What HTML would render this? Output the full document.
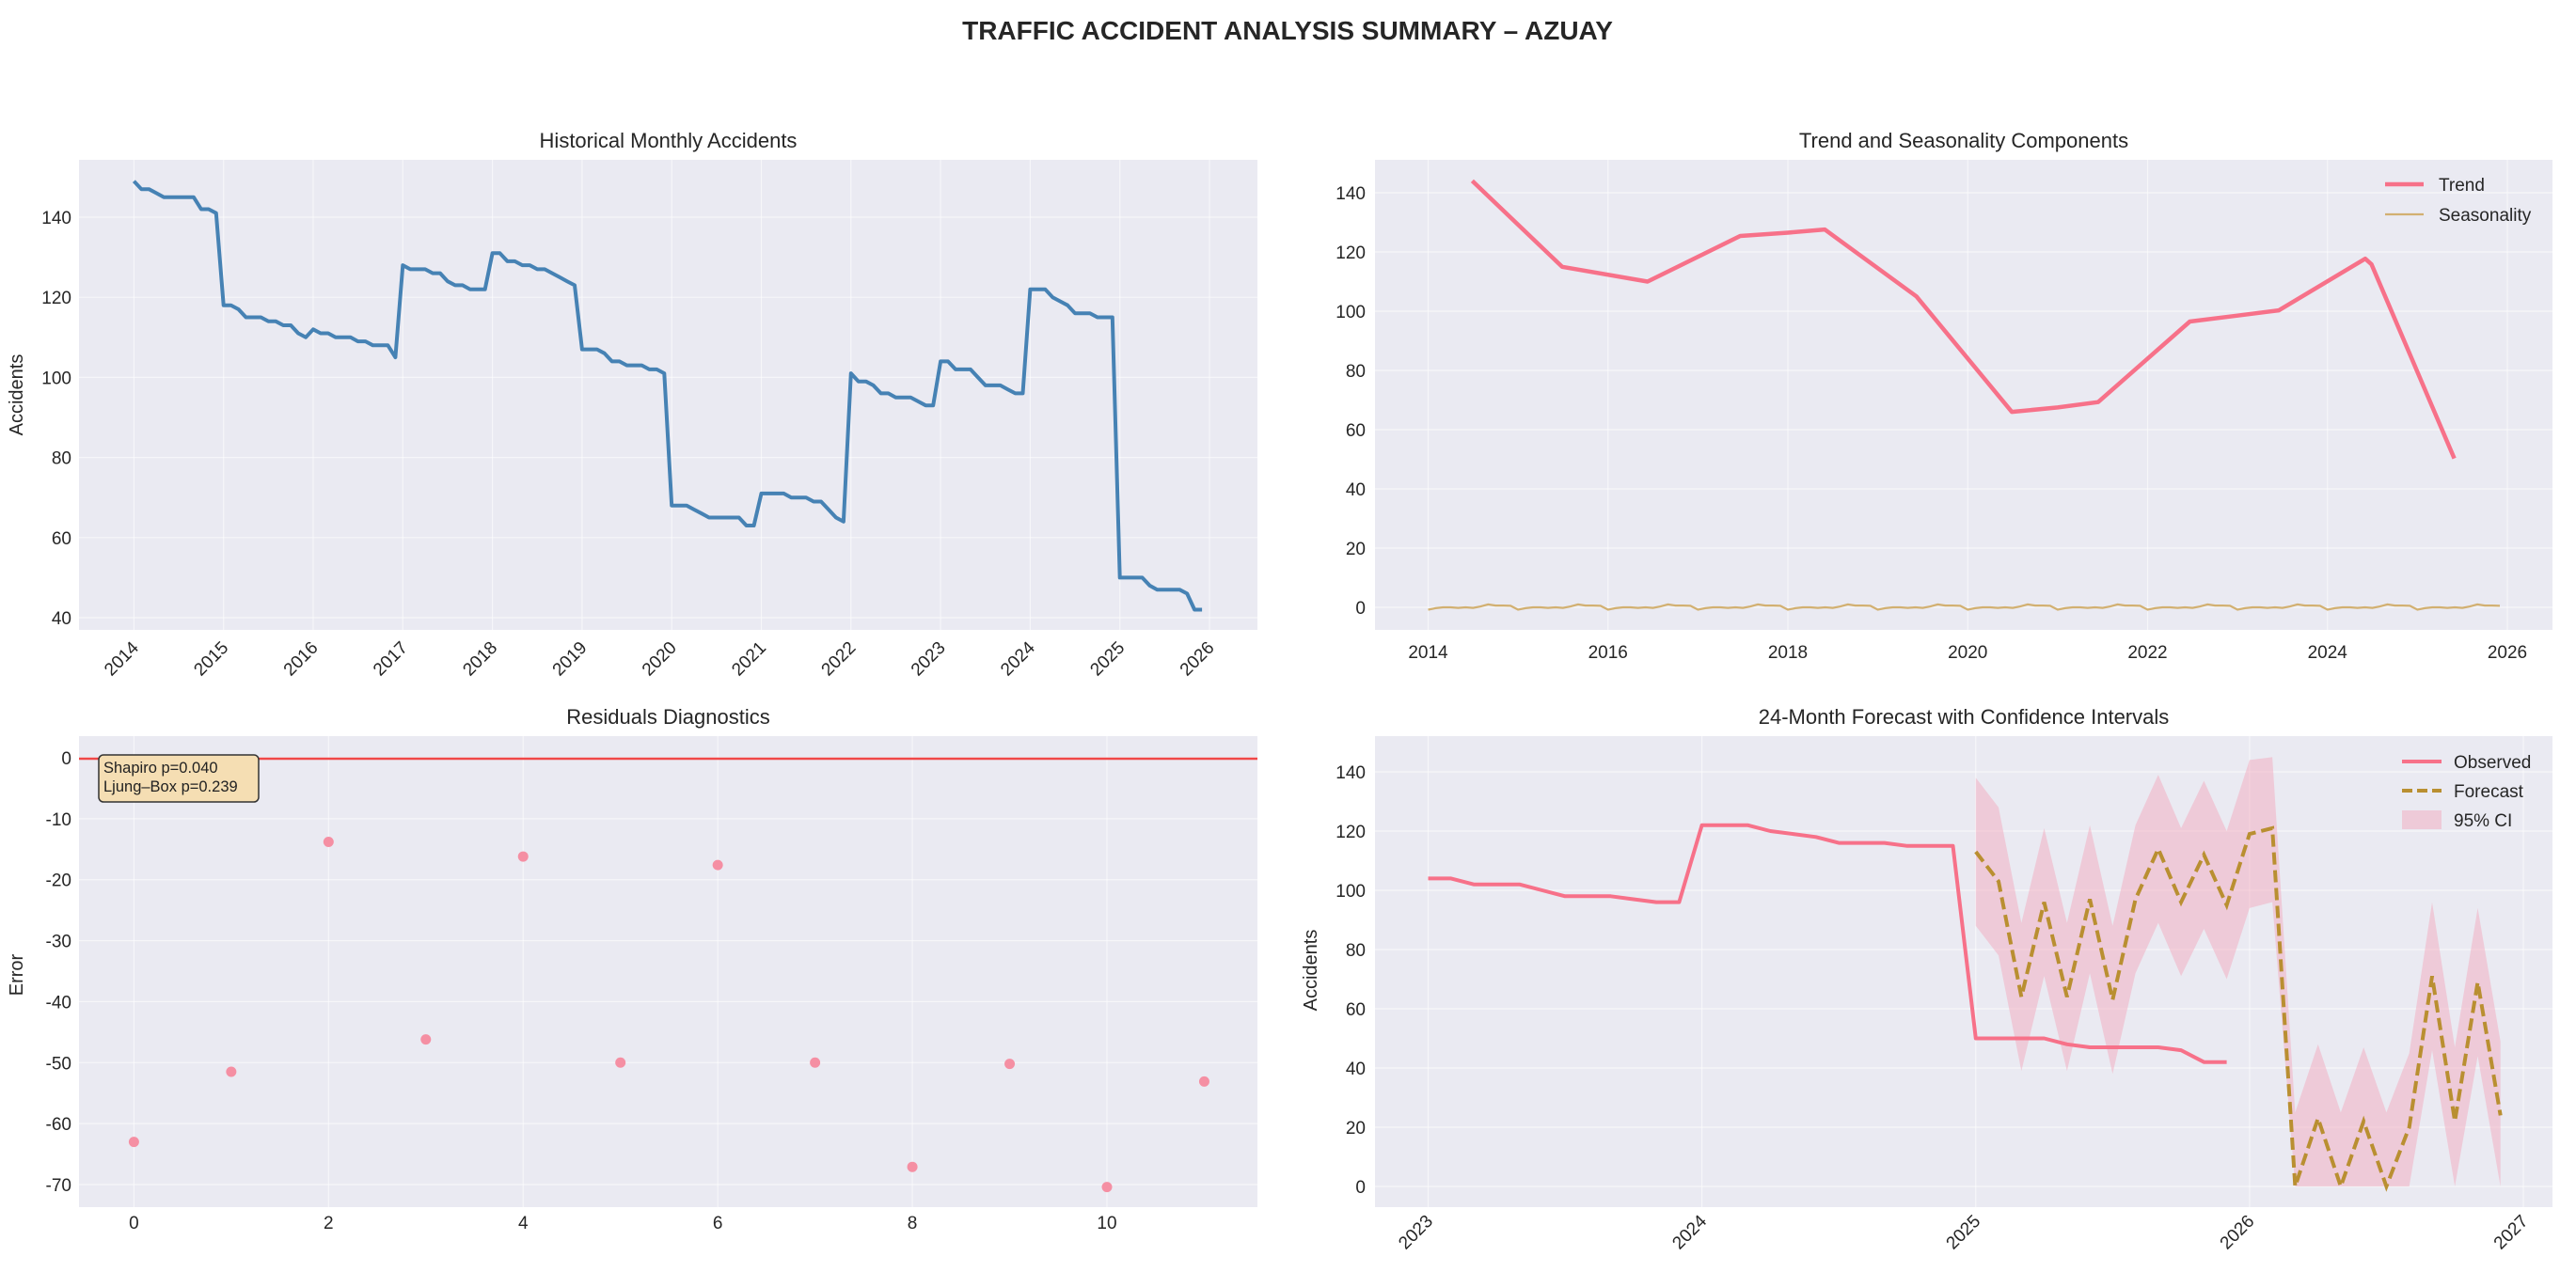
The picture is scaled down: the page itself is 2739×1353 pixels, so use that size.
<!DOCTYPE html>
<html><head><meta charset="utf-8"><style>
html,body{margin:0;padding:0;background:#fff}
svg{display:block;font-family:"Liberation Sans",Arial,sans-serif}
</style></head><body>
<svg id="fig" width="2739" height="1353" viewBox="0 0 2739 1353" xmlns="http://www.w3.org/2000/svg">
<text x="1369" y="42" text-anchor="middle" font-size="28" font-weight="bold" fill="#262626">TRAFFIC ACCIDENT ANALYSIS SUMMARY – AZUAY</text>
</svg>
<script>
// ---- data ----
const histYears = [2014,2015,2016,2017,2018,2019,2020,2021,2022,2023,2024,2025];
const histValues = [
149,147,147,146,145,145,145,145,145,142,142,141,
118,118,117,115,115,115,114,114,113,113,111,110,
112,111,111,110,110,110,109,109,108,108,108,105,
128,127,127,127,126,126,124,123,123,122,122,122,
131,131,129,129,128,128,127,127,126,125,124,123,
107,107,107,106,104,104,103,103,103,102,102,101,
68,68,68,67,66,65,65,65,65,65,63,63,
71,71,71,71,70,70,70,69,69,67,65,64,
101,99,99,98,96,96,95,95,95,94,93,93,
104,104,102,102,102,100,98,98,98,97,96,96,
122,122,122,120,119,118,116,116,116,115,115,115,
50,50,50,50,48,47,47,47,47,46,42,42];
const histTicks = [2014,2015,2016,2017,2018,2019,2020,2021,2022,2023,2024,2025,2026];
const histYTicks = [40,60,80,100,120,140];

const trendX = [2014.49,2015.49,2016.44,2017.47,2018.0,2018.41,2019.43,2020.49,2021.0,2021.45,2022.47,2023.0,2023.46,2024.42,2024.49,2025.41];
const trendY = [144,115,110,125.4,126.5,127.6,105,66,67.5,69.3,96.5,98.5,100.3,117.7,115.8,50.3];
const seasonMonthly = [-0.8,-0.3,0,0,-0.2,0,-0.2,0.3,1.0,0.6,0.6,0.5];
const trendXTicks = [2014,2016,2018,2020,2022,2024,2026];
const trendYTicks = [0,20,40,60,80,100,120,140];

const residIdx = [0,1,2,3,4,5,6,7,8,9,10,11];
const residVals = [-63,-51.5,-13.8,-46.2,-16.2,-50,-17.6,-50,-67.1,-50.2,-70.4,-53.1];
const residXTicks = [0,2,4,6,8,10];
const residYTicks = [0,-10,-20,-30,-40,-50,-60,-70];

const fcValues = [113,103,64,96,64,97,63,97,114,96,112,95,119,121,0,23,0,22,0,20,71,22,69,24];
const fcUpper = [138,128,89,121,89,122,88,122,139,121,137,120,144,145,25,48,25,47,25,45,96,47,94,49];
const fcLower = [88,78,39,71,39,72,38,72,89,71,87,70,94,96,0,0,0,0,0,0,46,0,44,0];
const fcXTicks = [2023,2024,2025,2026,2027];
const fcYTicks = [0,20,40,60,80,100,120,140];

// ---- helpers ----
const NS="http://www.w3.org/2000/svg";
const svg=document.getElementById('fig');
function mk(tag,attrs,parent){const e=document.createElementNS(NS,tag);for(const k in attrs)e.setAttribute(k,attrs[k]);(parent||svg).appendChild(e);return e;}
function lin(d0,d1,r0,r1){return v=>r0+(v-d0)*(r1-r0)/(d1-d0);}
const TXT="#262626";

function panel(name,x0,x1,y0,y1,title){
  const g=mk('g',{});
  
  
  const r=mk('rect',{x:x0,y:y0,width:x1-x0,height:y1-y0,fill:'#eaeaf2'},g);
  
  
  const t=mk('text',{x:(x0+x1)/2,y:y0-13,'text-anchor':'middle','font-size':22,fill:TXT},g);
  t.textContent=title;
  
  
  return g;
}
function grid(g,xs,ys,x0,x1,y0,y1){
  xs.forEach(x=>{const l=mk('line',{x1:x,x2:x,y1:y0,y2:y1,stroke:'#fff','stroke-width':1.2,'stroke-opacity':0.55},g);});
  ys.forEach(y=>{const l=mk('line',{x1:x0,x2:x1,y1:y,y2:y,stroke:'#fff','stroke-width':1.2,'stroke-opacity':0.55},g);});
}
function ytickLabels(g,ticks,sy,xr){
  ticks.forEach(v=>{const t=mk('text',{x:xr,y:sy(v)+7,'text-anchor':'end','font-size':19,fill:TXT},g);t.textContent=v;});
}
function xtickLabels(g,ticks,sx,y,rot){
  ticks.forEach(v=>{let t;
    if(rot){const x=sx(v)+6;t=mk('text',{x:x,y:y,'text-anchor':'end','font-size':19,fill:TXT,transform:`rotate(-45 ${x} ${y})`},g);}
    else t=mk('text',{x:sx(v),y:y,'text-anchor':'middle','font-size':19,fill:TXT},g);
    t.textContent=v;});
}
function ylabel(g,text,x,y){const t=mk('text',{x:x,y:y,'text-anchor':'middle','font-size':20,fill:TXT,transform:`rotate(-90 ${x} ${y})`},g);t.textContent=text;}
function pathD(xs,ys){return xs.map((x,i)=>(i?'L':'M')+x.toFixed(1)+' '+ys[i].toFixed(1)).join(' ');}

// ---- Panel 1: historical ----
{
  const X0=84,X1=1337,Y0=170,Y1=670;
  const sx=lin(2014,2026,142.4,1286), sy=lin(40,140,657,231);
  const g=panel('historical-panel',X0,X1,Y0,Y1,'Historical Monthly Accidents');
  grid(g,histTicks.map(sx),histYTicks.map(sy),X0,X1,Y0,Y1);
  const xs=[],ys=[];
  histValues.forEach((v,i)=>{const yr=histYears[Math.floor(i/12)]+(i%12)/12;xs.push(sx(yr));ys.push(sy(v));});
  const p=mk('path',{d:pathD(xs,ys),fill:'none',stroke:'#4682b4','stroke-width':4,'stroke-linejoin':'round'},g);
  
  
  ytickLabels(g,histYTicks,sy,76);
  xtickLabels(g,histTicks,sx,690,true);
  ylabel(g,'Accidents',24,420);
}

// ---- Panel 2: trend/seasonality ----
{
  const X0=1462,X1=2714,Y0=170,Y1=670;
  const sx=lin(2014,2026,1518.5,2666), sy=lin(0,140,646,205);
  const g=panel('trend-panel',X0,X1,Y0,Y1,'Trend and Seasonality Components');
  grid(g,trendXTicks.map(sx),trendYTicks.map(sy),X0,X1,Y0,Y1);
  const p=mk('path',{d:pathD(trendX.map(sx),trendY.map(sy)),fill:'none',stroke:'#f77189','stroke-width':4.5,'stroke-linejoin':'round'},g);
  
  
  const sxs=[],sys=[];
  for(let y=0;y<12;y++)for(let m=0;m<12;m++){sxs.push(sx(2014+y+m/12));sys.push(sy(seasonMonthly[m]));}
  const s=mk('path',{d:pathD(sxs,sys),fill:'none',stroke:'#d2b071','stroke-width':2.2},g);
  
  
  ytickLabels(g,trendYTicks,sy,1452);
  xtickLabels(g,trendXTicks,sx,700,false);
  const l1=mk('line',{x1:2536,x2:2577,y1:196,y2:196,stroke:'#f77189','stroke-width':4.5},g);
  
  const t1=mk('text',{x:2593,y:203,'font-size':19,fill:TXT},g);t1.textContent='Trend';
  
  const l2=mk('line',{x1:2536,x2:2577,y1:228,y2:228,stroke:'#d2b071','stroke-width':2.2},g);
  
  const t2=mk('text',{x:2593,y:235,'font-size':19,fill:TXT},g);t2.textContent='Seasonality';
  
}

// ---- Panel 3: residuals ----
{
  const X0=84,X1=1337,Y0=783,Y1=1284;
  const sx=lin(0,10,142.4,1177), sy=lin(0,-70,806,1260);
  const g=panel('residuals-panel',X0,X1,Y0,Y1,'Residuals Diagnostics');
  grid(g,residXTicks.map(sx),residYTicks.map(sy),X0,X1,Y0,Y1);
  const h=mk('line',{x1:X0,x2:X1,y1:sy(0)+1,y2:sy(0)+1,stroke:'#f04848','stroke-width':2.5},g);
  
  residVals.forEach((v,i)=>{const c=mk('circle',{cx:sx(residIdx[i]),cy:sy(v),r:5.5,fill:'#f58fa3'},g);
    });
  const b=mk('rect',{x:105,y:803,width:170,height:50,rx:5,fill:'#f5deb3',stroke:'#333','stroke-width':1.5},g);
  
  const a1=mk('text',{x:110,y:822,'font-size':16.5,fill:'#222'},g);a1.textContent='Shapiro p=0.040';
  
  const a2=mk('text',{x:110,y:842,'font-size':16.5,fill:'#222'},g);a2.textContent='Ljung–Box p=0.239';
  
  ytickLabels(g,residYTicks,sy,76);
  xtickLabels(g,residXTicks,sx,1307,false);
  ylabel(g,'Error',24,1037);
}

// ---- Panel 4: forecast ----
{
  const X0=1462,X1=2714,Y0=783,Y1=1284;
  const sx=lin(2023,2027,1518.5,2683), sy=lin(0,140,1262,821);
  const g=panel('forecast-panel',X0,X1,Y0,Y1,'24-Month Forecast with Confidence Intervals');
  grid(g,fcXTicks.map(sx),fcYTicks.map(sy),X0,X1,Y0,Y1);
  const fx=fcValues.map((v,i)=>sx(2025+i/12));
  const up=fcUpper.map(sy), lo=fcLower.map(sy);
  let d='M'+fx.map((x,i)=>x.toFixed(1)+' '+up[i].toFixed(1)).join(' L');
  for(let i=fx.length-1;i>=0;i--)d+=' L'+fx[i].toFixed(1)+' '+lo[i].toFixed(1);
  const ci=mk('path',{d:d+' Z',fill:'#f4a3b8','fill-opacity':0.45},g);
  
  const ox=[],oy=[];
  histValues.forEach((v,i)=>{const yr=histYears[Math.floor(i/12)]+(i%12)/12;if(yr>=2023){ox.push(sx(yr));oy.push(sy(v));}});
  const ob=mk('path',{d:pathD(ox,oy),fill:'none',stroke:'#f77189','stroke-width':4,'stroke-linejoin':'round'},g);
  
  const fl=mk('path',{d:pathD(fx,fcValues.map(sy)),fill:'none',stroke:'#b98f31','stroke-width':4,'stroke-dasharray':'13 6'},g);
  
  ytickLabels(g,fcYTicks,sy,1452);
  xtickLabels(g,fcXTicks,sx,1300,true);
  ylabel(g,'Accidents',1400,1032);
  const L=[['Observed',810,'obs'],['Forecast',841,'fc'],['95% CI',872,'ci']];
  L.forEach(([lab,y,k])=>{let s;
    if(k==='obs')s=mk('line',{x1:2554,x2:2596,y1:y,y2:y,stroke:'#f77189','stroke-width':4},g);
    else if(k==='fc')s=mk('line',{x1:2554,x2:2596,y1:y,y2:y,stroke:'#b98f31','stroke-width':4,'stroke-dasharray':'11 5'},g);
    else s=mk('rect',{x:2554,y:y-10,width:42,height:20,fill:'#f4a3b8','fill-opacity':0.45},g);
    
    const t=mk('text',{x:2609,y:y+7,'font-size':19,fill:TXT},g);t.textContent=lab;
    });
}
</script>
</body></html>
